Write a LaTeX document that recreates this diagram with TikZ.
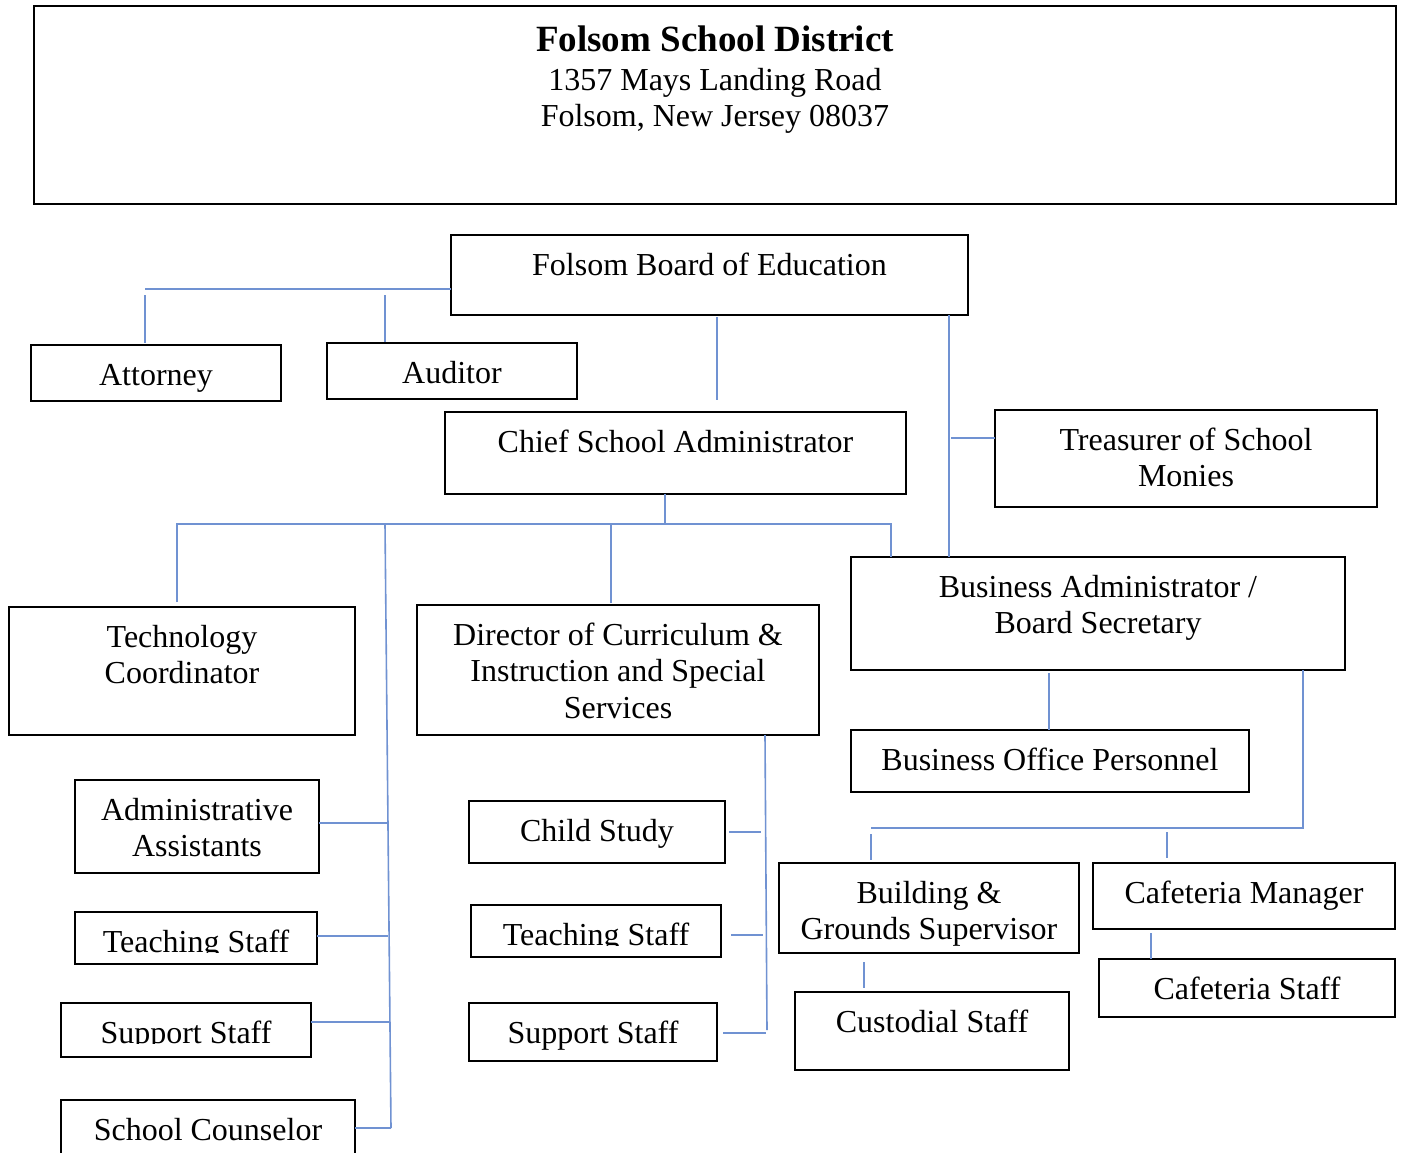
\documentclass[tikz,border=0pt]{standalone}
\usepackage{fontspec}
\setmainfont{Liberation Serif}
\usepackage{trimclip}
\usetikzlibrary{calc}
\definecolor{linkblue}{RGB}{112,146,210}

% text block of a box: first baseline 40pt below the top edge
\newcommand{\boxtext}[3]{\parbox[c][#2][t]{#1}{\centering\rule{0pt}{40pt}#3}}
% text cut off at its baseline
\newcommand{\cuttext}[1]{\clipbox{0pt {\depth} 0pt 0pt}{#1}}

\tikzset{
  box/.style={draw, line width=2pt, inner sep=0pt, outer sep=0pt, anchor=north west,
    font=\fontsize{32}{36.5}\selectfont},
  link/.style={draw=linkblue, line width=1.6pt},
}

\begin{document}
\begin{tikzpicture}[x=1pt, y=-1pt]
        \useasboundingbox (0,0) rectangle (1401,1153);

        % Heading
        \node[box] (head) at (34,6) {\parbox[c][198pt][t]{1362pt}{\centering
            \rule{0pt}{46pt}{\bfseries\fontsize{37}{38}\selectfont Folsom School District}\par
            \vspace{2pt}1357 Mays Landing Road\\Folsom, New Jersey 08037\par}};

        % Board and its advisers
        \node[box] (board) at (451,235) {\boxtext{517pt}{80pt}{Folsom Board of Education}};
        \node[box] (attorney) at (31,345) {\boxtext{250pt}{56pt}{Attorney}};
        \node[box] (auditor) at (327,343) {\boxtext{250pt}{56pt}{Auditor}};
        \node[box] (chief) at (445,412) {\boxtext{461pt}{82pt}{Chief School Administrator}};
        \node[box] (treasurer) at (995,410) {\boxtext{382pt}{97pt}{Treasurer of School\\Monies}};

        % Second level
        \node[box] (tech) at (9,607) {\boxtext{346pt}{128pt}{Technology\\Coordinator}};
        \node[box] (director) at (417,605) {\boxtext{402pt}{130pt}{Director of Curriculum \&\\Instruction and Special\\Services}};
        \node[box] (busadmin) at (851,557) {\boxtext{494pt}{113pt}{Business Administrator /\\Board Secretary}};
        \node[box] (bop) at (851,730) {\boxtext{398pt}{62pt}{Business Office Personnel}};

        % Staff under the chief
        \node[box] (adminasst) at (75,780) {\boxtext{244pt}{93pt}{Administrative\\Assistants}};
        \node[box] (teachL) at (75,912) {\boxtext{242pt}{52pt}{\cuttext{Teaching Staff}}};
        \node[box] (supportL) at (61,1003) {\boxtext{250pt}{54pt}{\cuttext{Support Staff}}};
        \node[box] (counselor) at (61,1100) {\boxtext{294pt}{70pt}{\cuttext{School Counselor}}};

        % Staff under the director
        \node[box] (cstudy) at (469,801) {\boxtext{256pt}{62pt}{Child Study}};
        \node[box] (teachM) at (471,905) {\boxtext{250pt}{52pt}{\cuttext{Teaching Staff}}};
        \node[box] (supportM) at (469,1003) {\boxtext{248pt}{58pt}{Support Staff}};

        % Operations
        \node[box] (building) at (779,863) {\boxtext{300pt}{90pt}{Building \&\\Grounds Supervisor}};
        \node[box] (custodial) at (795,992) {\boxtext{274pt}{78pt}{Custodial Staff}};
        \node[box] (cafmgr) at (1093,863) {\boxtext{302pt}{66pt}{Cafeteria Manager}};
        \node[box] (cafstaff) at (1099,959) {\boxtext{296pt}{58pt}{Cafeteria Staff}};

        % Connectors from the board
        \coordinate (legal) at (145,289);
        \draw[link] (board.west |- legal) -- (legal);
        \draw[link, shorten <=6pt, shorten >=2pt] (legal) -- (legal |- attorney.north);
        \draw[link, shorten <=6pt, shorten >=1pt] (385,289) -- (385,0 |- auditor.north);
        \draw[link, shorten <=2pt, shorten >=12pt] (board.south -| 717,0) -- (chief.north -| 717,0);
        \draw[link] (board.south -| 949,0) -- (busadmin.north -| 949,0);
        \draw[link] (treasurer.west |- 0,438) -- (951,438);

        % Connectors from the chief
        \coordinate (staff) at (665,524);
        \draw[link] (chief.south -| staff) -- (staff);
        \draw[link, shorten <=5pt] (tech.north -| 177,0) |- (staff) -| (busadmin.north -| 891,0);
        \draw[link, shorten >=2pt] (staff -| 611,0) -- (director.north -| 611,0);
        \coordinate (trunkL) at (391,1128);
        \draw[link] (staff -| 385,0) -- (trunkL);
        \draw[link] (adminasst.east |- 0,823) -- (388,823);
        \draw[link] (teachL.east |- 0,936) -- (388,936);
        \draw[link] (supportL.east |- 0,1022) -- (389,1022);
        \draw[link] (counselor.east |- trunkL) -- (trunkL);

        % Connectors from the director
        \coordinate (dirEnd) at (767,1030);
        \draw[link] (director.south -| 765,0) -- (dirEnd);
        \draw[link, shorten <=4pt] (cstudy.east) -- (761,0 |- cstudy.east);
        \draw[link, shorten <=10pt] (teachM.east |- 0,935) -- (763,935);
        \draw[link, shorten <=6pt] (supportM.east |- 0,1033) -- (766,1033);

        % Connectors from the business administrator
        \draw[link, shorten <=3pt] (busadmin.south -| 1049,0) -- (bop.north -| 1049,0);
        \coordinate (ops) at (1303,828);
        \draw[link] (busadmin.south -| ops) -- (ops) -- (871,828);
        \draw[link, shorten <=6pt, shorten >=3pt] (871,828) -- (building.north -| 871,0);
        \draw[link, shorten <=4pt, shorten >=5pt] (1167,828) -- (cafmgr.north -| 1167,0);
        \draw[link, shorten <=9pt, shorten >=4pt] (building.south -| 864,0) -- (custodial.north -| 864,0);
        \draw[link, shorten <=4pt] (cafmgr.south -| 1151,0) -- (cafstaff.north -| 1151,0);
    \end{tikzpicture}
\end{document}
